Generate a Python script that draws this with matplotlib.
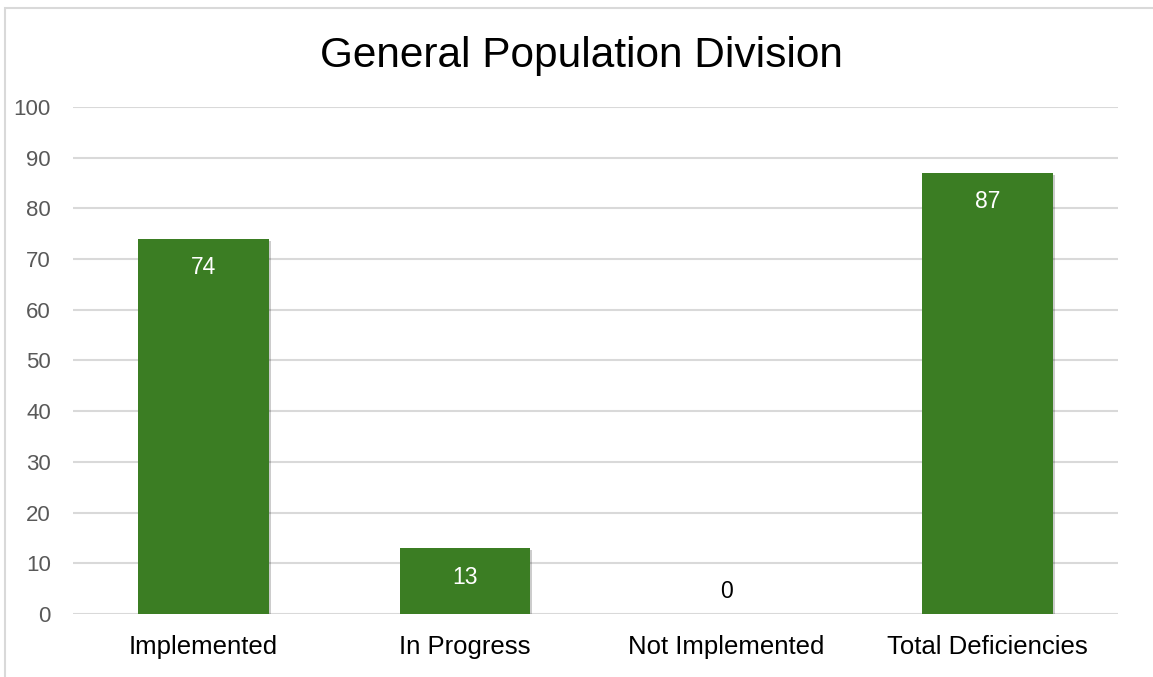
import matplotlib.pyplot as plt
import matplotlib.patheffects as pe
from matplotlib.patches import Rectangle

categories = ["Implemented", "In Progress", "Not Implemented", "Total Deficiencies"]
values = [74, 13, 0, 87]
yticks = list(range(0, 101, 10))

plt.rcParams['font.family'] = ['Liberation Sans', 'DejaVu Sans']

fig = plt.figure(figsize=(11.53, 6.77), dpi=100)
ax = fig.add_axes([0.0633, 0.0931, 0.9064, 0.7489])

# chart border (only left/top visible in the reference)
fig.patches.append(Rectangle((5 / 1153, -0.01), 1.05, (677 - 8) / 677 + 0.01,
                             transform=fig.transFigure, fill=False,
                             edgecolor='#D9D9D9', linewidth=1.5))

x = range(len(categories))
bars = ax.bar(x, values, width=0.5, color='#3B7D23', zorder=3)
for b in bars:
    b.set_path_effects([pe.SimplePatchShadow(offset=(1.5, -1.5), shadow_rgbFace='#000000', alpha=0.2),
                        pe.Normal()])

for xi, v in zip(x, values):
    if v > 5:
        ax.annotate(str(v), (xi, v), xytext=(0, -29), textcoords='offset pixels',
                    ha='center', va='center', color='white', fontsize=16.5, zorder=4)
    else:
        ax.annotate(str(v), (xi, v), xytext=(0, 22), textcoords='offset pixels',
                    ha='center', va='center', color='black', fontsize=16.5, zorder=4)

ax.set_xlim(-0.5, 3.5)
ax.set_ylim(0, 100)
ax.set_yticks(yticks)
ax.set_xticks(list(x))
ax.set_xticklabels(categories, fontsize=18.5, color='black')
ax.tick_params(axis='y', labelsize=16, labelcolor='#595959', length=0, pad=16)
ax.tick_params(axis='x', length=0, pad=15)
ax.grid(axis='y', color='#D9D9D9', linewidth=1.5, zorder=0)
for s in ax.spines.values():
    s.set_visible(False)

fig.text(0.5043, 0.917, "General Population Division", ha='center', va='center',
         fontsize=30.5, color='black')

fig.savefig("out.png", dpi=100)
